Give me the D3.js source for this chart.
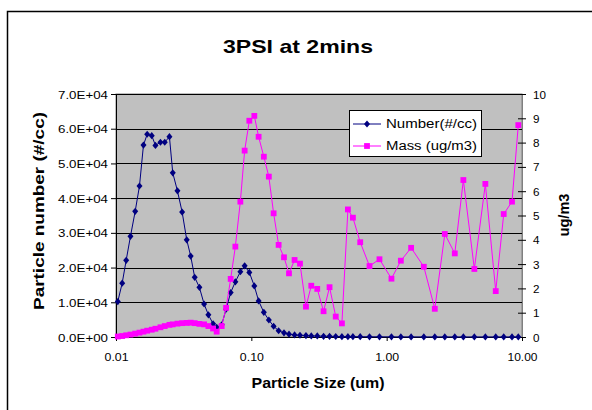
<!DOCTYPE html>
<html lang="en">
<head>
    <meta charset="UTF-8">
    <title>3PSI at 2mins</title>
    <script src="https://d3js.org/d3.v7.min.js"></script>
    <style>
        body {
            margin: 0;
            background-color: #ffffff;
            font-family: "Liberation Sans", Arial, sans-serif;
        }
        svg text {
            fill: #000000;
        }
    </style>
</head>
<body>
    <svg id="chart" width="592" height="410"></svg>

    <script>
        // Particle size bins (um)
        const sizes = [
            0.01031, 0.01111, 0.01189, 0.01279, 0.01386, 0.01491, 0.01596, 0.01700,
            0.01837, 0.01956, 0.02130, 0.02292, 0.02482, 0.02626, 0.02844, 0.03081,
            0.03331, 0.03565, 0.03815, 0.04133, 0.04477, 0.04816, 0.05216, 0.05545,
            0.06038, 0.06508, 0.07035, 0.07620, 0.08296, 0.08924, 0.09665, 0.1052,
            0.1132, 0.1237, 0.1347, 0.1461, 0.1591, 0.1743, 0.1898, 0.2087,
            0.2288, 0.2533, 0.2773, 0.3070, 0.3417, 0.3784, 0.4204, 0.4670,
            0.5172, 0.5631, 0.6375, 0.7468, 0.8849, 1.085, 1.273, 1.516,
            1.882, 2.268, 2.689, 3.187, 3.688, 4.446, 5.361, 6.397,
            7.327, 8.436, 9.391
        ];

        // Number(#/cc)
        const numberValues = [
            10200, 15500, 22100, 29000, 36200, 43500, 55300, 58400,
            58000, 55200, 56100, 56100, 57700, 47300, 42100, 36000,
            28000, 23300, 17200, 14300, 9500, 6400, 3800, 2800,
            3500, 8000, 12800, 15900, 18800, 20500, 18600, 14700,
            10400, 7100, 4900, 3100, 1800, 1200, 800, 600,
            500, 400, 300, 300, 200, 200, 150, 100,
            100, 100, 80, 60, 50, 40, 30, 30,
            20, 20, 20, 10, 10, 10, 10, 10,
            10, 10, 10
        ];

        // Mass (ug/m3)
        const massValues = [
            0.02, 0.04, 0.07, 0.10, 0.14, 0.18, 0.22, 0.26,
            0.30, 0.34, 0.40, 0.45, 0.50, 0.52, 0.55, 0.57,
            0.58, 0.59, 0.57, 0.54, 0.52, 0.45, 0.35, 0.22,
            0.45, 1.20, 2.39, 3.72, 5.57, 7.67, 8.90, 9.10,
            8.24, 7.42, 6.60, 5.09, 3.79, 3.28, 2.62, 3.17,
            3.02, 1.25, 2.11, 1.98, 1.06, 2.05, 0.84, 0.56,
            5.25, 4.91, 3.90, 2.92, 3.20, 2.40, 3.14, 3.67,
            2.89, 1.16, 4.24, 3.44, 6.46, 2.80, 6.30, 1.89,
            5.06, 5.57, 8.72
        ];

        const leftTicks = [0, 10000, 20000, 30000, 40000, 50000, 60000, 70000];
        const rightTicks = [0, 1, 2, 3, 4, 5, 6, 7, 8, 9, 10];
        const xTicks = [0.01, 0.1, 1, 10];

        const svg = d3.select("#chart");
        const plot = { left: 116, right: 522, top: 94, bottom: 337 };

        const x = d3.scaleLog().domain([0.01, 10]).range([plot.left, plot.right]);
        const yLeft = d3.scaleLinear().domain([0, 70000]).range([plot.bottom, plot.top]);
        const yRight = d3.scaleLinear().domain([0, 10]).range([plot.bottom, plot.top]);

        // text helper: stretch to the measured width like the original rendering
        function label(sel, txt, px, py, size, len, opts) {
            opts = opts || {};
            const t = sel.append("text")
                .attr("x", px)
                .attr("y", py)
                .attr("font-size", size)
                .attr("font-weight", opts.bold ? "bold" : "normal")
                .attr("text-anchor", opts.anchor || "middle")
                .attr("dominant-baseline", "central")
                .text(txt);
            if (len) t.attr("textLength", len).attr("lengthAdjust", "spacingAndGlyphs");
            if (opts.rotate) t.attr("transform", `rotate(-90,${px},${py})`);
            return t;
        }

        // chart area border (runs off the picture on the right and bottom)
        svg.append("path")
            .attr("d", "M7.5,420V11.5H600")
            .attr("fill", "none")
            .attr("stroke", "#000")
            .attr("stroke-width", 1.5);

        // plot area
        svg.append("rect")
            .attr("x", plot.left)
            .attr("y", plot.top)
            .attr("width", plot.right - plot.left)
            .attr("height", plot.bottom - plot.top)
            .attr("fill", "#c0c0c0")
            .attr("stroke", "#808080")
            .attr("stroke-width", 1);

        // gridlines
        svg.append("g")
            .selectAll("line")
            .data(leftTicks.slice(1))
            .enter().append("line")
            .attr("x1", plot.left)
            .attr("x2", plot.right)
            .attr("y1", d => Math.round(yLeft(d)) + 0.5)
            .attr("y2", d => Math.round(yLeft(d)) + 0.5)
            .attr("stroke", "#000")
            .attr("stroke-width", 1);

        // left axis
        const gLeft = svg.append("g")
            .attr("transform", `translate(${plot.left},0)`)
            .call(d3.axisLeft(yLeft).tickValues(leftTicks).tickSize(5).tickPadding(4)
                .tickFormat(d => d3.format(".1e")(d).replace("e+", "E+0").replace("E+00", "E+0")));
        gLeft.select(".domain").attr("stroke", "#000");
        gLeft.selectAll("text").remove();
        gLeft.selectAll(".tick").each(function (d) {
            const s = (d / 10000).toFixed(1) + (d === 0 ? "E+00" : "E+04");
            label(d3.select(this), s, -8, 0, 10.5, 50, { anchor: "end" });
        });

        // right axis (ticks cross the line)
        const gRight = svg.append("g")
            .attr("transform", `translate(${plot.right},0)`)
            .call(d3.axisRight(yRight).tickValues(rightTicks).tickSize(4).tickFormat(""));
        gRight.select(".domain").attr("stroke", "#808080");
        gRight.selectAll(".tick line").attr("x1", -4).attr("x2", 4);
        gRight.selectAll(".tick").each(function (d) {
            const s = String(d);
            label(d3.select(this), s, 11, 0, 10.5, s.length === 1 ? 6.5 : 13, { anchor: "start" });
        });

        // bottom axis
        const gBottom = svg.append("g")
            .attr("transform", `translate(0,${plot.bottom})`)
            .call(d3.axisBottom(x).tickValues(xTicks).tickSize(4).tickFormat(""));
        gBottom.select(".domain").attr("stroke", "#000");
        gBottom.selectAll(".tick").each(function (d) {
            const s = d3.format(".2f")(d);
            label(d3.select(this), s, 0, 20, 10.5, s.length === 4 ? 24 : 30);
        });

        // titles
        label(svg, "3PSI at 2mins", 298, 46, 19, 150, { bold: true });
        label(svg, "Particle Size (um)", 318, 383, 14, 133, { bold: true });
        label(svg, "Particle number (#/cc)", 39, 211, 14, 198, { bold: true, rotate: true });
        label(svg, "ug/m3", 564, 215, 14, 43, { bold: true, rotate: true });

        const diamond = "M0,-3.6L3,0L0,3.6L-3,0Z";
        const square = "M-2.9,-2.9H2.9V2.9H-2.9Z";

        // Number series (left axis)
        const numLine = d3.line()
            .x((d, i) => x(sizes[i]))
            .y(d => yLeft(d));
        svg.append("path")
            .datum(numberValues)
            .attr("d", numLine)
            .attr("fill", "none")
            .attr("stroke", "#000080")
            .attr("stroke-width", 1);
        svg.append("g")
            .selectAll("path")
            .data(numberValues)
            .enter().append("path")
            .attr("d", diamond)
            .attr("transform", (d, i) => `translate(${x(sizes[i])},${yLeft(d)})`)
            .attr("fill", "#000080");

        // Mass series (right axis)
        const massLine = d3.line()
            .x((d, i) => x(sizes[i]))
            .y(d => yRight(d));
        svg.append("path")
            .datum(massValues)
            .attr("d", massLine)
            .attr("fill", "none")
            .attr("stroke", "#ff00ff")
            .attr("stroke-width", 1);
        svg.append("g")
            .selectAll("path")
            .data(massValues)
            .enter().append("path")
            .attr("d", square)
            .attr("transform", (d, i) => `translate(${x(sizes[i])},${yRight(d)})`)
            .attr("fill", "#ff00ff");

        // legend
        const legend = svg.append("g");
        legend.append("rect")
            .attr("x", 349.5)
            .attr("y", 110.5)
            .attr("width", 132)
            .attr("height", 46)
            .attr("fill", "#ffffff")
            .attr("stroke", "#000")
            .attr("stroke-width", 1);
        const legendItems = [
            { name: "Number(#/cc)", color: "#000080", shape: diamond, y: 124 },
            { name: "Mass (ug/m3)", color: "#ff00ff", shape: square, y: 146 }
        ];
        legendItems.forEach(item => {
            legend.append("line")
                .attr("x1", 353).attr("x2", 381)
                .attr("y1", item.y).attr("y2", item.y)
                .attr("stroke", item.color)
                .attr("stroke-width", 1);
            legend.append("path")
                .attr("d", item.shape)
                .attr("transform", `translate(367,${item.y})`)
                .attr("fill", item.color);
            label(legend, item.name, 386, item.y, 12.5, 91, { anchor: "start" });
        });
    </script>
</body>
</html>
